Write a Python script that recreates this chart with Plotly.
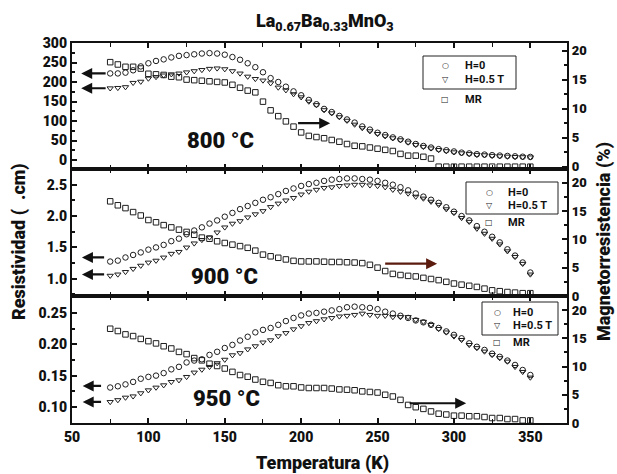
import plotly.graph_objects as go

# ---------------- data ----------------
T = [75, 80, 85, 90, 95, 100, 105, 110, 115, 120, 125, 130, 135, 140, 145, 150, 155, 160,
     165, 170, 175, 180, 185, 190, 195, 200, 205, 210, 215, 220, 225, 230, 235, 240, 245,
     250, 255, 260, 265, 270, 275, 280, 285, 290, 295, 300, 305, 310, 315, 320, 325, 330,
     335, 340, 345, 350]

rho800_H0 = [222, 222, 224, 230, 240, 248, 254, 258, 263, 267, 269, 271, 273, 274, 273, 270, 264, 257,
             248, 238, 225, 210, 200, 188, 176, 166, 154, 143, 131, 123, 113, 104, 96, 86, 78, 70, 64,
             58, 53, 47, 41, 36, 32, 28, 25, 22, 19, 17, 15, 14, 12.5, 11.5, 10.5, 9.5, 8.5, 8]
rho800_H05 = [184, 185, 187, 198, 201, 209, 213, 217, 220, 222, 225, 228, 231, 234, 235, 233, 228, 222,
              214, 208, 204, 197, 186, 179, 169, 161, 150, 141, 128, 120, 110, 101, 91, 82, 74, 67, 61,
              56, 51, 45, 39, 34, 30, 26, 23, 20, 17.5, 15.5, 13.5, 12.5, 11, 10, 9, 8, 7.5, 7]
mr800 = [18.0, 17.6, 17.2, 17.2, 16.9, 16.0, 15.9, 15.8, 15.5, 15.4, 15.0, 14.9, 14.8, 14.7, 14.6, 14.5,
         14.1, 13.6, 13.1, 12.8, 11.2, 9.7, 8.7, 7.8, 6.9, 5.9, 5.3, 5.1, 4.9, 4.6, 4.3, 3.9, 3.6, 3.5,
         3.3, 3.1, 2.9, 2.7, 2.2, 1.9, 1.9, 1.7, 1.4, 0, 0, 0, 0, 0, 0, 0, 0, 0, 0, 0, 0, 0]

rho900_H0 = [1.275, 1.29, 1.34, 1.38, 1.42, 1.465, 1.50, 1.54, 1.60, 1.64, 1.71, 1.77, 1.82, 1.88, 1.93,
             1.99, 2.05, 2.11, 2.16, 2.21, 2.26, 2.30, 2.35, 2.40, 2.44, 2.48, 2.51, 2.53, 2.56, 2.58,
             2.59, 2.60, 2.60, 2.59, 2.58, 2.56, 2.53, 2.50, 2.46, 2.41, 2.36, 2.31, 2.26, 2.21, 2.14,
             2.07, 2.00, 1.93, 1.84, 1.75, 1.67, 1.58, 1.47, 1.37, 1.26, 1.10]
rho900_H05 = [1.05, 1.07, 1.11, 1.16, 1.21, 1.26, 1.29, 1.34, 1.40, 1.43, 1.50, 1.565, 1.62, 1.66, 1.74,
              1.82, 1.88, 1.92, 1.98, 2.03, 2.08, 2.145, 2.20, 2.25, 2.29, 2.345, 2.39, 2.42, 2.45, 2.46,
              2.48, 2.49, 2.50, 2.50, 2.49, 2.48, 2.46, 2.42, 2.39, 2.36, 2.31, 2.28, 2.23, 2.18, 2.11,
              2.05, 1.97, 1.91, 1.80, 1.72, 1.64, 1.55, 1.44, 1.35, 1.24, 1.07]
mr900 = [16.7, 16.0, 15.5, 14.8, 14.2, 13.4, 13.0, 12.5, 12.1, 11.7, 11.3, 10.8, 10.3, 10.1, 9.65, 9.35,
         9.06, 8.8, 8.5, 8.0, 7.3, 7.0, 6.74, 6.45, 6.2, 6.1, 6.1, 6.1, 6.05, 6.0, 6.0, 5.95, 5.9, 5.8,
         5.5, 5.0, 4.4, 3.9, 3.7, 3.55, 3.45, 3.2, 3.0, 2.8, 2.5, 2.2, 2.0, 1.8, 1.6, 1.3, 1.0, 0.85,
         0.7, 0.6, 0.5, 0.5]

rho950_H0 = [0.131, 0.133, 0.136, 0.140, 0.145, 0.148, 0.150, 0.154, 0.160, 0.164, 0.171, 0.174, 0.176,
             0.183, 0.188, 0.194, 0.199, 0.206, 0.212, 0.219, 0.223, 0.226, 0.231, 0.237, 0.242, 0.246,
             0.249, 0.250, 0.252, 0.254, 0.256, 0.259, 0.260, 0.259, 0.258, 0.256, 0.252, 0.249, 0.2455,
             0.242, 0.238, 0.235, 0.231, 0.226, 0.2205, 0.215, 0.2095, 0.2015, 0.196, 0.191, 0.185,
             0.180, 0.174, 0.167, 0.159, 0.151]
rho950_H05 = [0.108, 0.111, 0.115, 0.117, 0.122, 0.1267, 0.131, 0.1347, 0.140, 0.1427, 0.148, 0.155,
              0.1596, 0.164, 0.170, 0.1755, 0.1826, 0.186, 0.192, 0.197, 0.203, 0.2065, 0.213, 0.218,
              0.224, 0.229, 0.234, 0.237, 0.240, 0.242, 0.2445, 0.2455, 0.247, 0.249, 0.247, 0.2455,
              0.2455, 0.2435, 0.2435, 0.2435, 0.239, 0.236, 0.231, 0.2245, 0.219, 0.2126, 0.207, 0.199,
              0.194, 0.1885, 0.183, 0.178, 0.1725, 0.164, 0.156, 0.147]
mr950 = [16.7, 16.3, 15.7, 15.4, 14.9, 14.5, 14.1, 13.6, 13.2, 12.6, 12.2, 11.5, 11.1, 10.5, 10.1, 9.65,
         9.06, 8.5, 8.2, 7.7, 7.3, 7.1, 6.7, 6.5, 6.5, 6.3, 6.2, 6.2, 6.2, 6.1, 5.95, 5.9, 5.8, 5.6,
         5.5, 5.4, 5.0, 4.7, 4.1, 3.2, 2.8, 2.5, 2.05, 1.65, 1.5, 1.3, 1.3, 1.2, 1.2, 1.06, 0.88, 0.88,
         0.7, 0.7, 0.46, 0.46]

panel_labels = ["800 °C", "900 °C", "950 °C"]
series_names = ["H=0", "H=0.5 T", "MR"]
legend_glyphs = ["○", "▽", "□"]

# ---------------- style ----------------
FONT = "Roboto, Liberation Sans, sans-serif"
INK = "#1e1e1e"
W, H = 617, 474
ML, MR_, MT, MB = 72, 50, 43, 51
PW, PH = W - ML - MR_, H - MT - MB

def py2paper(py):
    return (H - MB - py) / PH

def px2paper(px):
    return (px - ML) / PW

b1 = py2paper(169)
b2 = py2paper(296)
domains = [[b1, 1.0], [b2, b1], [0.0, b2]]

symbols = ["circle-open", "triangle-down-open", "square-open"]

fig = go.Figure()

panels = [
    (rho800_H0, rho800_H05, mr800),
    (rho900_H0, rho900_H05, mr900),
    (rho950_H0, rho950_H05, mr950),
]

for i, (r0, r5, mr) in enumerate(panels):
    xa = "x" if i == 0 else f"x{i+1}"
    yl = "y" if i == 0 else f"y{2*i+1}"
    yr = f"y{2*i+2}"
    for vals, sym, name, ya in [(r0, symbols[0], series_names[0], yl),
                                (r5, symbols[1], series_names[1], yl),
                                (mr, symbols[2], series_names[2], yr)]:
        fig.add_trace(go.Scatter(
            x=T, y=vals, mode="markers", name=name, xaxis=xa, yaxis=ya,
            cliponaxis=False, showlegend=False,
            marker=dict(symbol=sym, size=5.5, color=INK, line=dict(width=1, color=INK)),
        ))

tickfont = dict(family=FONT, size=14, color="#111", weight=900)
tickfont_r = dict(family=FONT, size=13, color="#111", weight=900)
xcommon = dict(range=[50, 374], showline=True, linewidth=2.2, linecolor="#111", mirror="ticks",
               ticks="inside", ticklen=5, tickwidth=1.5, tickcolor="#111",
               tickvals=[50, 100, 150, 200, 250, 300, 350],
               minor=dict(tickvals=[75, 125, 175, 225, 275, 325], ticks="inside", ticklen=4,
                          tickwidth=1.2, tickcolor="#111"),
               showgrid=False, zeroline=False, tickfont=tickfont)

ycommon = dict(showline=True, linewidth=2.2, linecolor="#111", ticks="inside", ticklen=5,
               tickwidth=1.5, tickcolor="#111", showgrid=False, zeroline=False)

layout = dict(
    width=W, height=H, margin=dict(l=ML, r=MR_, t=MT, b=MB),
    paper_bgcolor="white", plot_bgcolor="white", showlegend=False,
    font=dict(family=FONT, color="#111"),
)

left_cfg = [
    dict(range=[-23, 300], tickvals=[0, 50, 100, 150, 200, 250, 300],
         minor=dict(dtick=25, ticks="inside", ticklen=3, tickcolor="#111")),
    dict(range=[0.726, 2.75], tickvals=[1.0, 1.5, 2.0, 2.5], tickformat=".1f",
         minor=dict(dtick=0.25, ticks="inside", ticklen=3, tickcolor="#111")),
    dict(range=[0.0744, 0.277], tickvals=[0.10, 0.15, 0.20, 0.25], tickformat=".2f",
         minor=dict(dtick=0.025, ticks="inside", ticklen=3, tickcolor="#111")),
]
right_cfg = [dict(range=[-0.4, 21.3]), dict(range=[0, 22.4]), dict(range=[0, 22.5])]

for i in range(3):
    xk = "xaxis" if i == 0 else f"xaxis{i+1}"
    ylk = "yaxis" if i == 0 else f"yaxis{2*i+1}"
    yrk = f"yaxis{2*i+2}"
    yl = "y" if i == 0 else f"y{2*i+1}"
    xa = "x" if i == 0 else f"x{i+1}"
    xd = dict(xcommon, anchor=yl, domain=[0, 1], showticklabels=(i == 2))
    if i > 0:
        xd["matches"] = "x"
    layout[xk] = xd
    layout[ylk] = dict(ycommon, anchor=xa, domain=domains[i], side="left", tickfont=tickfont,
                       **left_cfg[i])
    layout[yrk] = dict(ycommon, anchor=xa, overlaying=yl, side="right", tickfont=tickfont_r,
                       tickvals=[0, 5, 10, 15, 20],
                       minor=dict(dtick=2.5, ticks="inside", ticklen=3, tickcolor="#111"),
                       **right_cfg[i])

fig.update_layout(**layout)

# ---------------- legends (drawn as box + text) ----------------
leg = [
    (423, 516, 56, 89, 445, 463, [66, 80, 99]),
    (466, 558, 182, 214, 489, 506, [192, 205, 222]),
    (482, 558, 302, 335, 497, 511, [312, 325, 342]),
]
shapes = []
ann = []
legfont = dict(family=FONT, size=11, color="#111", weight="bold")
for (x0, x1, y0, y1, sx, tx, rows) in leg:
    shapes.append(dict(type="rect", xref="paper", yref="paper", x0=px2paper(x0), x1=px2paper(x1),
                       y0=py2paper(y1), y1=py2paper(y0), line=dict(color="#222", width=1)))
    for g, name, ry in zip(legend_glyphs, series_names, rows):
        ann.append(dict(text=g, xref="paper", yref="paper", x=px2paper(sx), y=py2paper(ry),
                        xanchor="center", yanchor="middle", showarrow=False,
                        font=dict(family="DejaVu Sans", size=8, color="#222")))
        ann.append(dict(text=name, xref="paper", yref="paper", x=px2paper(tx), y=py2paper(ry),
                        xanchor="left", yanchor="middle", showarrow=False, font=legfont))

# ---------------- titles / labels ----------------
big = dict(family=FONT, size=18, color="#111", weight=900)
ann.append(dict(text="La<sub>0.67</sub>Ba<sub>0.33</sub>MnO<sub>3</sub>", xref="paper", yref="paper",
                x=px2paper(325), y=py2paper(22), xanchor="center", yanchor="middle",
                showarrow=False, font=big))
ann.append(dict(text="Temperatura (K)", xref="paper", yref="paper", x=px2paper(322), y=py2paper(463),
                xanchor="center", yanchor="middle", showarrow=False, font=big))
ann.append(dict(text="Resistividad (  .cm)", xref="paper", yref="paper", x=px2paper(19), y=py2paper(242),
                xanchor="center", yanchor="middle", textangle=-90, showarrow=False, font=big))
ann.append(dict(text="Magnetorresistencia (%)", xref="paper", yref="paper", x=px2paper(604),
                y=py2paper(242), xanchor="center", yanchor="middle", textangle=-90,
                showarrow=False, font=big))

lab_pos = [(147, "y", 51), (150, "y3", 1.04), (151, "y5", 0.113)]
for (tx, yref, ty), lab in zip(lab_pos, panel_labels):
    ann.append(dict(text=lab, xref="x", yref=yref, x=tx, y=ty, showarrow=False,
                    xanchor="center", yanchor="middle",
                    font=dict(family=FONT, size=22, color="#111", weight=900)))

# arrows toward the axis each series belongs to
arrows = [
    ("y", 56, 73, 222), ("y", 56, 73, 184),
    ("y3", 56.5, 72, 1.34), ("y3", 56.5, 72, 1.07),
    ("y5", 57, 70, 0.1335), ("y5", 57, 70, 0.108),
    ("y2", 219, 197, 7.5), ("y4", 289, 254, 5.7), ("y6", 308, 270, 3.5),
]
arrow_colors = ["#111"] * 7 + ["#5b1b0e", "#111"]
for (yref, hx, tx, yv), col in zip(arrows, arrow_colors):
    ann.append(dict(x=hx, y=yv, xref="x", yref=yref, ax=tx, ay=yv, axref="x", ayref=yref,
                    showarrow=True, arrowhead=2, arrowsize=1, arrowwidth=2.2, arrowcolor=col, text=""))

fig.update_layout(annotations=ann, shapes=shapes)

fig.write_html("out.html")
